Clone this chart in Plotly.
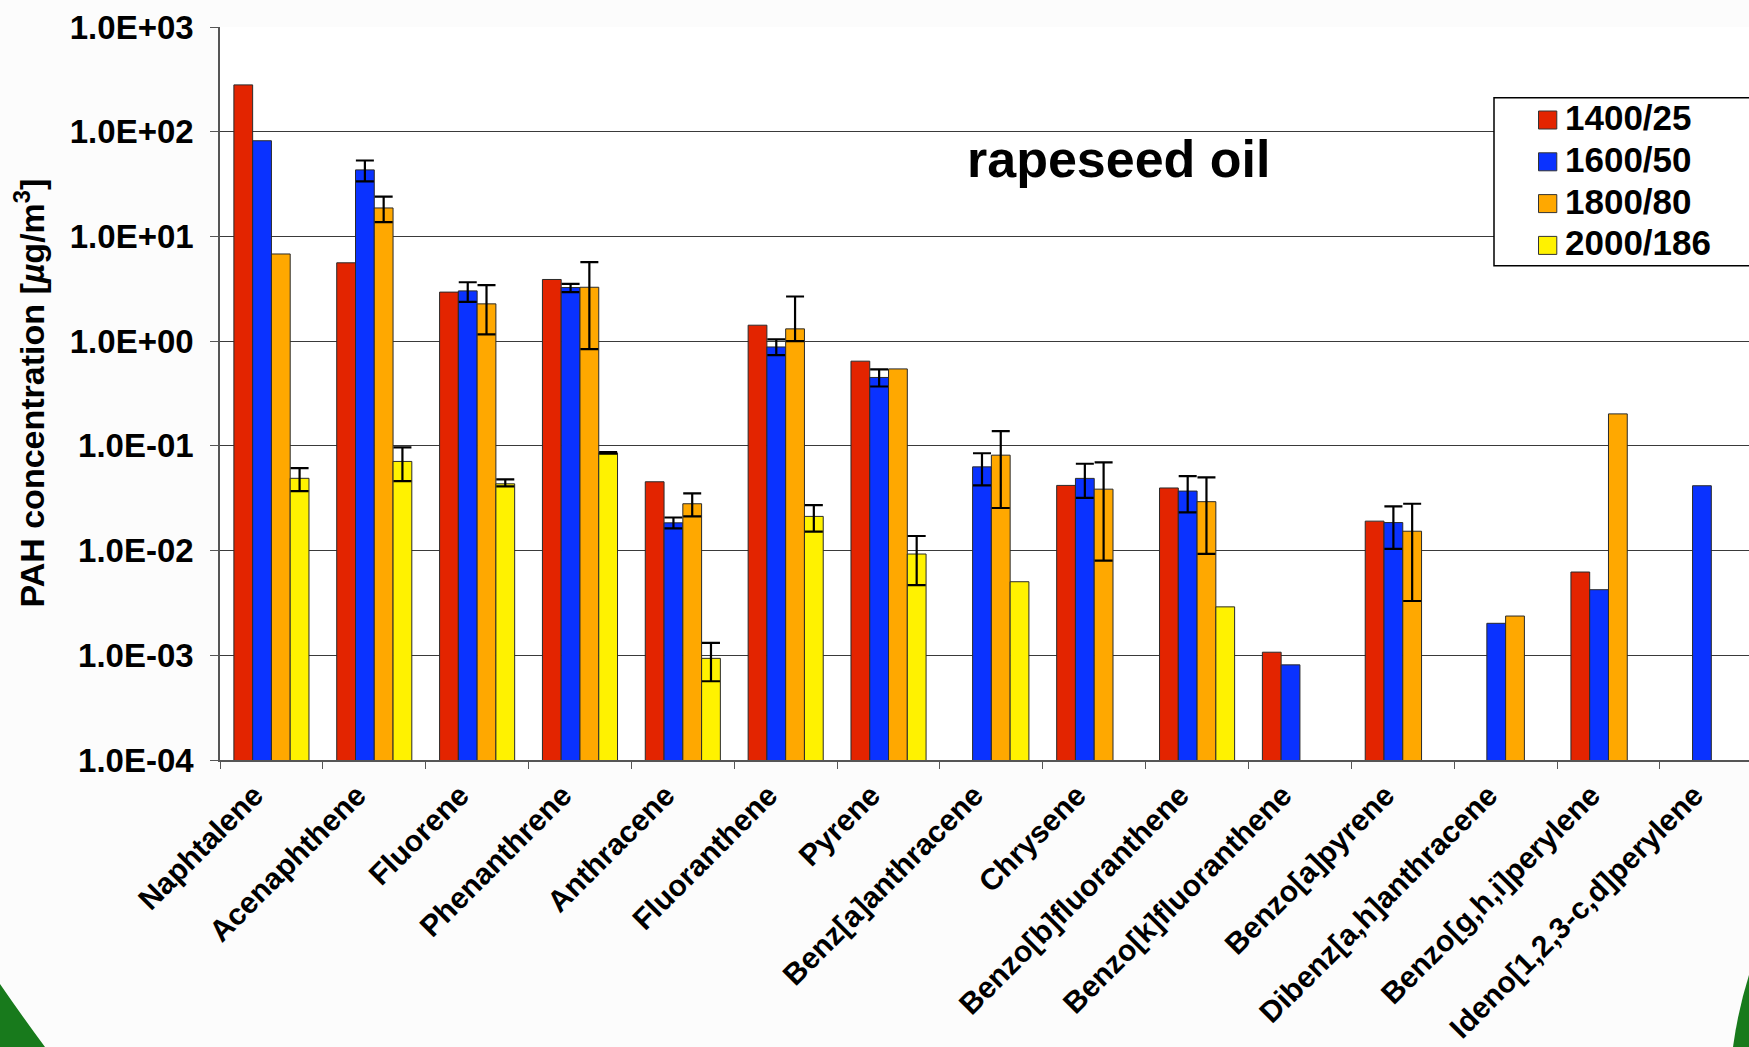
import numpy as np
import plotly.graph_objects as go

# ---- data -----------------------------------------------------------------
categories = [
    "Naphtalene", "Acenaphthene", "Fluorene", "Phenanthrene", "Anthracene",
    "Fluoranthene", "Pyrene", "Benz[a]anthracene", "Chrysene",
    "Benzo[b]fluoranthene", "Benzo[k]fluoranthene", "Benzo[a]pyrene",
    "Dibenz[a,h]anthracene", "Benzo[g,h,i]perylene", "Ideno[1,2,3-c,d]perylene",
]

series_names = ["1400/25", "1600/50", "1800/80", "2000/186"]

conc_1400_25 = [280, 5.6, 2.94, 3.88, 0.0454, 1.42, 0.644, None, 0.0419,
                0.0396, 0.00107, 0.0191, None, 0.00624, None]
conc_1600_50 = [82, 43.2, 3.02, 3.25, 0.0184, 0.88, 0.45, 0.063, 0.0489,
                0.037, 0.00081, 0.0185, 0.00202, 0.00423, 0.0416]
conc_1800_80 = [6.8, 18.7, 2.27, 3.27, 0.028, 1.31, 0.543, 0.0815, 0.0386,
                0.0293, None, 0.0153, 0.00237, 0.202, None]
conc_2000_186 = [0.049, 0.071, 0.0434, 0.0857, 0.000935, 0.0212, 0.00927,
                 0.00504, None, 0.0029, None, None, None, None, None]

# error bars (upper / lower), None = no error bar
err_up_1400_25 = [None] * 15
err_dn_1400_25 = [None] * 15
err_up_1600_50 = [None, 9.9, 0.63, 0.27, 0.0023, 0.16, 0.087, 0.022, 0.0186,
                  0.0144, None, 0.0079, None, None, None]
err_dn_1600_50 = [None, 9.6, 0.65, 0.31, 0.0021, 0.145, 0.081, 0.021, 0.017,
                  0.0138, None, 0.0081, None, None, None]
err_up_1800_80 = [None, 5.3, 1.15, 2.41, 0.0072, 1.36, None, 0.057, 0.031,
                  0.0207, None, 0.0127, None, None, None]
err_dn_1800_80 = [None, 5.0, 1.11, 2.43, 0.0068, 0.31, None, 0.056, 0.0306,
                  0.020, None, 0.012, None, None, None]
err_up_2000_186 = [0.0124, 0.0256, 0.0044, 0.0015, 0.00038, 0.006, 0.0045,
                   None, None, None, None, None, None, None, None]
err_dn_2000_186 = [0.012, 0.025, 0.0024, 0.0015, 0.00037, 0.006, 0.0046,
                   None, None, None, None, None, None, None, None]

y_tick_vals = [1e-4, 1e-3, 1e-2, 1e-1, 1e0, 1e1, 1e2, 1e3]
y_tick_text = ["1.0E-04", "1.0E-03", "1.0E-02", "1.0E-01",
               "1.0E+00", "1.0E+01", "1.0E+02", "1.0E+03"]

# ---- styling / geometry ---------------------------------------------------
colors = ["#E32400", "#0A32FF", "#FFA800", "#FFF200"]
FONT = "Liberation Sans, Arial, Helvetica, sans-serif"

W, H = 1749, 1047
PLOT_L, PLOT_T, PLOT_B, PLOT_R = 220, 27, 760, W
CAT_PX = 102.85  # pixel width of one category slot


def px_x(px):
    return (px - PLOT_L) / (PLOT_R - PLOT_L)


def px_y(py):
    return (PLOT_B - py) / (PLOT_B - PLOT_T)


def nan_array(vals):
    return np.array([np.nan if v is None else v for v in vals], dtype=float)


values = [conc_1400_25, conc_1600_50, conc_1800_80, conc_2000_186]
errs_up = [err_up_1400_25, err_up_1600_50, err_up_1800_80, err_up_2000_186]
errs_dn = [err_dn_1400_25, err_dn_1600_50, err_dn_1800_80, err_dn_2000_186]

fig = go.Figure()
for name, vals, eu, ed, col in zip(series_names, values, errs_up, errs_dn, colors):
    has_err = any(v is not None for v in eu)
    fig.add_trace(go.Bar(
        x=categories,
        y=vals,
        name=name,
        showlegend=False,
        marker=dict(color=col, line=dict(color="#2a2a2a", width=1)),
        error_y=dict(
            type="data",
            visible=has_err,
            symmetric=False,
            array=nan_array(eu),
            arrayminus=nan_array(ed),
            color="black",
            thickness=2.2,
            width=9,
        ),
    ))

x_span = (PLOT_R - PLOT_L) / CAT_PX

fig.update_layout(
    width=W,
    height=H,
    margin=dict(l=PLOT_L, r=W - PLOT_R, t=PLOT_T, b=H - PLOT_B, autoexpand=False),
    paper_bgcolor="#fcfcfc",
    plot_bgcolor="white",
    barmode="group",
    bargap=0.27,
    bargroupgap=0,
    font=dict(family=FONT, color="black"),
    xaxis=dict(
        type="category",
        range=[-0.5, -0.5 + x_span],
        showgrid=False,
        showline=True,
        linecolor="#555555",
        linewidth=1.5,
        ticks="outside",
        tickson="boundaries",
        ticklen=7,
        tickcolor="#555555",
        tickwidth=1.2,
        tickangle=-45,
        ticklabelshift=-17,
        ticklabelstandoff=4,
        tickfont=dict(family=FONT, size=30, color="black", weight="bold"),
    ),
    yaxis=dict(
        type="log",
        range=[-4, 3],
        tickvals=y_tick_vals,
        ticktext=y_tick_text,
        showgrid=True,
        gridcolor="#3a3a3a",
        gridwidth=1,
        showline=True,
        linecolor="#555555",
        linewidth=1.5,
        ticks="outside",
        ticklen=8,
        tickcolor="#555555",
        tickwidth=1.2,
        ticklabelstandoff=10,
        tickfont=dict(family=FONT, size=33, color="black", weight="bold"),
        zeroline=False,
    ),
)

# axis title
fig.add_annotation(
    text="PAH concentration [<i>µ</i>g/m<sup>3</sup>]",
    xref="paper", yref="paper", x=px_x(29), y=px_y(393.5),
    xanchor="center", yanchor="middle", textangle=-90, showarrow=False,
    font=dict(family=FONT, size=34, color="black", weight="bold"),
)

# chart label
fig.add_annotation(
    text="rapeseed oil",
    xref="paper", yref="paper", x=px_x(1118.5), y=px_y(158.7),
    xanchor="center", yanchor="middle", showarrow=False,
    font=dict(family=FONT, size=52, color="black", weight="bold"),
)

# legend box (runs off the right edge of the page)
fig.add_shape(
    type="rect", xref="paper", yref="paper",
    x0=px_x(1494), x1=px_x(1770), y0=px_y(265.7), y1=px_y(97.7),
    line=dict(color="black", width=1.5), fillcolor="white", layer="above",
)
ROW0, ROW_STEP = 120.0, 41.8
for i, (name, col) in enumerate(zip(series_names, colors)):
    cy = ROW0 + i * ROW_STEP
    fig.add_shape(
        type="rect", xref="paper", yref="paper",
        x0=px_x(1538.5), x1=px_x(1556.8), y0=px_y(cy + 9), y1=px_y(cy - 9),
        line=dict(color="#333333", width=1), fillcolor=col, layer="above",
    )
    fig.add_annotation(
        text=name, xref="paper", yref="paper",
        x=px_x(1563), y=px_y(cy - 2.5),
        xanchor="left", yanchor="middle", showarrow=False,
        font=dict(family=FONT, size=35, color="black", weight="bold"),
    )


# green slide-corner decorations
def path_px(points):
    parts = []
    for cmd, pts in points:
        coords = " ".join(f"{px_x(a):.5f},{px_y(b):.5f}" for a, b in pts)
        parts.append(f"{cmd} {coords}")
    return " ".join(parts) + " Z"


fig.add_shape(
    type="path", xref="paper", yref="paper", layer="above",
    path=path_px([("M", [(0, 984)]), ("Q", [(22, 1016), (45, 1047)]),
                  ("L", [(0, 1047)])]),
    fillcolor="#187a1c", line=dict(width=0),
)
fig.add_shape(
    type="path", xref="paper", yref="paper", layer="above",
    path=path_px([("M", [(1749, 975)]), ("Q", [(1738, 1010), (1733, 1047)]),
                  ("L", [(1749, 1047)])]),
    fillcolor="#187a1c", line=dict(width=0),
)

fig.write_html("out.html")
